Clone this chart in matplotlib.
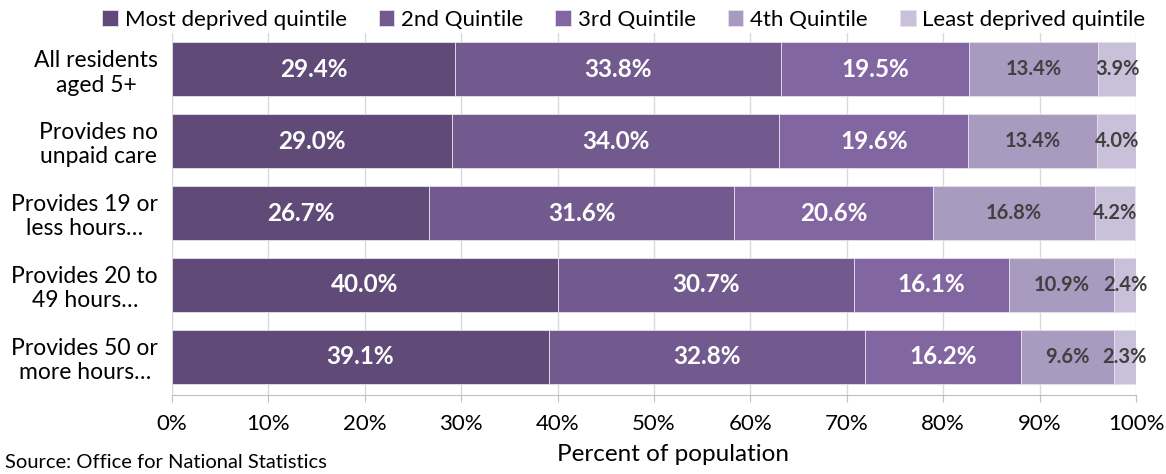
import numpy as np
import matplotlib
matplotlib.use("Agg")
import matplotlib.pyplot as plt

plt.rcParams['font.family'] = ['Lato', 'DejaVu Sans']

# andmed
kategooriad = ["All residents\naged 5+", "Provides no\nunpaid care", "Provides 19 or\nless hours…",
               "Provides 20 to\n49 hours…", "Provides 50 or\nmore hours…"]
kvintiilid = ["Most deprived quintile", "2nd Quintile", "3rd Quintile", "4th Quintile", "Least deprived quintile"]
most_deprived = [29.4, 29.0, 26.7, 40.0, 39.1]
teine = [33.8, 34.0, 31.6, 30.7, 32.8]
kolmas = [19.5, 19.6, 20.6, 16.1, 16.2]
neljas = [13.4, 13.4, 16.8, 10.9, 9.6]
least_deprived = [3.9, 4.0, 4.2, 2.4, 2.3]

seeriad = [most_deprived, teine, kolmas, neljas, least_deprived]
varvid = ["#5f4a78", "#725a8e", "#8266a1", "#a99abf", "#c9c0d9"]
tekstivarvid = ["white", "white", "white", "#404040", "#404040"]
suurused = [17.5, 17.5, 17.5, 14.5, 14.5]

fig = plt.figure(figsize=(11.66, 4.74), dpi=100)
ax = fig.add_axes([0.1475, 0.1667, 0.8268, 0.7633])

y = np.arange(len(kategooriad))
vasak = np.zeros(len(kategooriad))
for i, s in enumerate(seeriad):
    s = np.array(s)
    ax.barh(y, s, left=vasak, height=0.76, color=varvid[i], edgecolor="#e6e0ee",
            linewidth=0.6, label=kvintiilid[i], zorder=3)
    for j in range(len(s)):
        ax.text(vasak[j] + s[j] / 2, y[j], f"{s[j]:.1f}%", ha="center", va="center",
                color=tekstivarvid[i], fontsize=suurused[i], fontweight="bold", zorder=4)
    vasak += s

ax.set_xlim(0, 100)
ax.set_ylim(4.53, -0.5)
ax.set_yticks(y)
ax.set_yticklabels(kategooriad, fontsize=16.5)
for lab in ax.get_yticklabels():
    lab.set_multialignment("center")
ax.set_xticks(np.arange(0, 101, 10))
ax.set_xticklabels([f"{v}%" for v in range(0, 101, 10)], fontsize=16)
ax.tick_params(axis="y", length=0, pad=10)
ax.tick_params(axis="x", length=5, color="#bfbfbf", pad=9)
ax.grid(axis="x", color="#d9d9d9", linewidth=1, zorder=0)
for k in ["top", "right", "left"]:
    ax.spines[k].set_visible(False)
ax.spines["bottom"].set_color("#bfbfbf")
ax.set_xlabel("Percent of population", fontsize=17.5)
ax.xaxis.set_label_coords(0.52, -0.135)

fig.legend(loc="upper center", bbox_to_anchor=(0.535, 1.022), ncol=5, frameon=False,
           fontsize=16, handlelength=0.7, handleheight=0.7, handletextpad=0.3,
           columnspacing=1.45)
fig.text(0.004, 0.012, "Source: Office for National Statistics", fontsize=14.5)

fig.savefig("out.png", dpi=100)
